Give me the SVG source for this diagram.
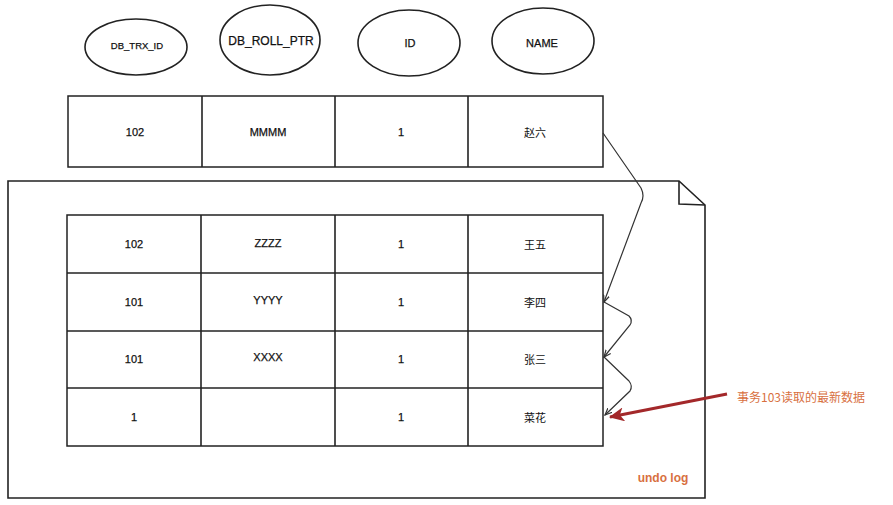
<svg xmlns="http://www.w3.org/2000/svg" width="893" height="505" viewBox="0 0 893 505">
<style>
.sh{fill:none;stroke:#222;stroke-width:1.6}
.cell{fill:#fff;stroke:#222;stroke-width:1.5}
.t{font-family:"Liberation Sans","Noto Sans CJK SC",sans-serif;font-size:11px;fill:#111;stroke:#111;stroke-width:0.25;text-anchor:middle;dominant-baseline:central}
.tc{font-family:"Noto Sans CJK SC","Liberation Sans",sans-serif;font-size:11px;fill:#111;text-anchor:middle;dominant-baseline:central}
.con{fill:none;stroke:#333;stroke-width:1.2}
.red{font-family:"Noto Sans CJK SC","Liberation Sans",sans-serif;font-size:12px;fill:#d8703f;font-weight:bold}
</style>
<defs>
<marker id="ah" markerWidth="8" markerHeight="8" refX="7" refY="4" orient="auto" markerUnits="userSpaceOnUse">
<path d="M0,1 L7,4 L0,7" fill="none" stroke="#333" stroke-width="1.2"/>
</marker>
<marker id="rah" markerWidth="16" markerHeight="14" refX="14" refY="7" orient="auto" markerUnits="userSpaceOnUse">
<path d="M0,0 L15,7 L0,14 L4,7 Z" fill="#a3282a"/>
</marker>
</defs>
<rect width="893" height="505" fill="#fff"/>
<g id="header">
<g id="h-trx"><ellipse class="sh" cx="136" cy="47" rx="51" ry="28"/><text class="t" x="137" y="45" style="font-size:9.5px">DB_TRX_ID</text></g>
<g id="h-roll"><ellipse class="sh" cx="270" cy="40" rx="50" ry="35"/><text class="t" x="271" y="41" style="font-size:12px">DB_ROLL_PTR</text></g>
<g id="h-id"><ellipse class="sh" cx="409" cy="43" rx="51" ry="33"/><text class="t" x="410" y="43">ID</text></g>
<g id="h-name"><ellipse class="sh" cx="543" cy="41" rx="51" ry="33"/><text class="t" x="542" y="43">NAME</text></g>
</g>
<g id="current-row">
<rect class="cell" x="68" y="96" width="535" height="71"/>
<line class="sh" x1="202" y1="96" x2="202" y2="167"/>
<line class="sh" x1="335" y1="96" x2="335" y2="167"/>
<line class="sh" x1="468" y1="96" x2="468" y2="167"/>
<text class="t" x="135" y="132">102</text>
<text class="t" x="268" y="132">MMMM</text>
<text class="t" x="401" y="132">1</text>
<text class="tc" x="535" y="132">赵六</text>
</g>
<g id="undo-log">
<path class="sh" d="M679,181 L8,181 L8,498 L705,498 L705,205 Z"/>
<path class="sh" d="M679,181 L679,204 L705,205"/>
<text class="red" x="663" y="482" text-anchor="middle" style="font-family:'Liberation Sans',sans-serif">undo log</text>
</g>
<g id="undo-table">
<rect class="cell" x="67" y="215" width="536" height="231"/>
<line class="sh" x1="67" y1="273" x2="603" y2="273"/>
<line class="sh" x1="67" y1="331" x2="603" y2="331"/>
<line class="sh" x1="67" y1="388" x2="603" y2="388"/>
<line class="sh" x1="201" y1="215" x2="201" y2="446"/>
<line class="sh" x1="335" y1="215" x2="335" y2="446"/>
<line class="sh" x1="468" y1="215" x2="468" y2="446"/>
<g id="row-1"><text class="t" x="134" y="244">102</text><text class="t" x="268" y="243">ZZZZ</text><text class="t" x="401" y="244">1</text><text class="tc" x="535" y="244">王五</text></g>
<g id="row-2"><text class="t" x="134" y="302">101</text><text class="t" x="268" y="300">YYYY</text><text class="t" x="401" y="302">1</text><text class="tc" x="535" y="302">李四</text></g>
<g id="row-3"><text class="t" x="134" y="359">101</text><text class="t" x="268" y="357">XXXX</text><text class="t" x="401" y="359">1</text><text class="tc" x="535" y="359">张三</text></g>
<g id="row-4"><text class="t" x="134" y="417">1</text><text class="t" x="401" y="417">1</text><text class="tc" x="535" y="417">菜花</text></g>
</g>
<g id="connectors">
<path class="con" d="M603,133 L641,188 Q645,196 641,203 L604,302" marker-end="url(#ah)"/>
<path class="con" d="M604,302 L629,316 Q633,320 630,325 L604,357" marker-end="url(#ah)"/>
<path class="con" d="M604,357 L629,381 Q633,386 630,391 L605,415" marker-end="url(#ah)"/>
<line x1="727" y1="394" x2="610" y2="417" stroke="#a3282a" stroke-width="3" marker-end="url(#rah)"/>
</g>
<g id="note"><text class="red" x="737" y="402" style="font-weight:normal;font-size:12px">事务103读取的最新数据</text></g>
</svg>
